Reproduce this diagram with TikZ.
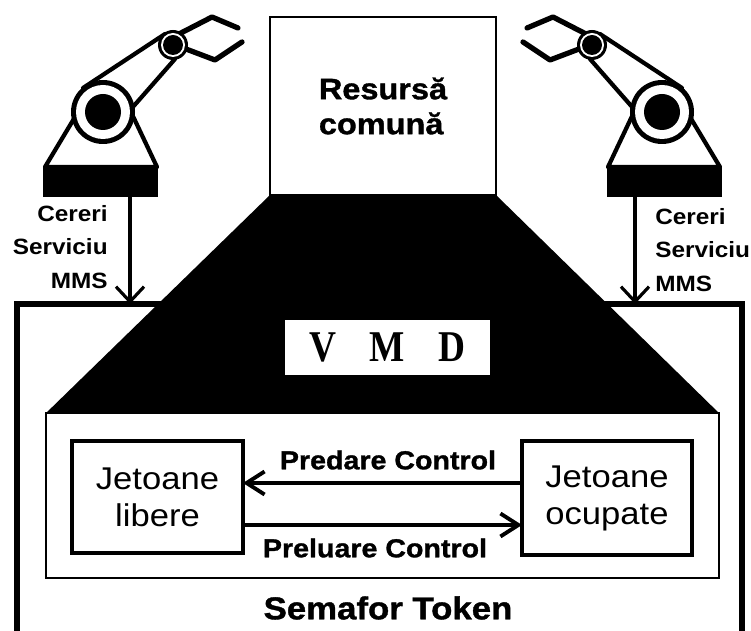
\documentclass[tikz,border=0pt]{standalone}
\usepackage{fontspec}
\setmainfont{Liberation Sans}[FakeStretch=1.1]
\newfontfamily\heavyfont{Liberation Sans}[FakeStretch=1.1, BoldFeatures={FakeBold=1.2}]
\newfontfamily\vmdfont{Liberation Serif}[FakeStretch=0.85]
\usetikzlibrary{arrows.meta, positioning}

\tikzset{
    box/.style={draw, fill=white, line width=1.5pt, inner sep=0pt, outer sep=0pt},
    token/.style={box, line width=2.2pt, align=center, font=\fontsize{17.9pt}{21pt}\selectfont},
    ctrl/.style={inner sep=0pt, font=\heavyfont\bfseries\fontsize{14.8pt}{17pt}\selectfont},
    req/.style={inner sep=0pt, font=\bfseries\fontsize{12.6pt}{19.3pt}\selectfont},
    pass/.style={line width=2.2pt, -{Straight Barb[length=0.36cm, width=0.46cm]}},
    request/.style={line width=1.8pt, -{Straight Barb[length=0.3cm, width=0.56cm]}},
    frame/.style={line width=3pt},
    robot/.pic={
        \fill (-60,55) rectangle (55,85);
        \filldraw[fill=white, line width=2.4pt, line join=round] (-58,55) -- (-25,0) -- (28,0) -- (54,55) -- cycle;
        \filldraw[fill=white, line width=2.4pt, line join=round] (0,0) -- (-20,-24) -- (62,-78) -- (70,-67) -- (72,-53) -- (29,-4) -- cycle;
        \draw[line width=3pt, line cap=round, line join=round] (76,-78) -- (109,-95) -- (135,-84);
        \draw[line width=3pt, line cap=round, line join=round] (83,-63) -- (112,-52) -- (139,-70);
        \fill (0,0) circle (32);
        \fill[white] (0,0) circle (27);
        \fill (0,0) circle (18);
        \fill (70,-67) circle (15);
        \fill[white] (70,-67) circle (12);
        \fill (70,-67) circle (10);
        \coordinate (-foot) at (27,85);
    }
}

\begin{document}
\begin{tikzpicture}[x=0.02cm, y=-0.02cm]
    \useasboundingbox (0,0) rectangle (751,631);
    \clip (0,0) rectangle (751,631);

    \coordinate (frameNW) at (17,304);
    \coordinate (frameNE) at (742,304);
    \draw[frame] ([yshift=-7cm]frameNW) -- (frameNW) -- (frameNE) -- ([yshift=-7cm]frameNE);

    \node[box, minimum width=4.52cm, minimum height=3.56cm, align=left, font=\heavyfont\bfseries\fontsize{16.8pt}{19.9pt}\selectfont] (resursa) at (383,106) {Resursă\\comună};
    \node[box, minimum width=13.46cm, minimum height=3.3cm] (semafor) at (382.5,495.5) {};
    \fill (resursa.south west) -- (resursa.south east) -- (semafor.north east) -- (semafor.north west) -- cycle;

    \node[box, draw=none, minimum width=4.1cm, minimum height=1.1cm, font=\vmdfont\bfseries\fontsize{25pt}{26pt}\selectfont] (vmd) at (387.5,347.5) {V\hspace{0.75em}M\hspace{0.75em}D\hspace{0.6em}};

    \node[token, minimum width=3.42cm, minimum height=2.24cm] (libere) at (157.5,497) {Jetoane\\libere};
    \node[token, minimum width=3.4cm, minimum height=2.28cm] (ocupate) at (607,498) {Jetoane\\ocupate};

    \draw[pass] ([yshift=0.3cm]ocupate.west) -- ([yshift=0.28cm]libere.east);
    \draw[pass] ([yshift=-0.56cm]libere.east) -- ([yshift=-0.54cm]ocupate.west);
    \node[ctrl] (predare) at (388,460) {Predare Control};
    \node[ctrl] (preluare) at (375,548) {Preluare Control};
    \node[inner sep=0pt, font=\heavyfont\bfseries\fontsize{18pt}{21pt}\selectfont] (token) at (388,608) {Semafor Token};

    \foreach \side/\sx/\cx in {L/1/103, R/-1/662} {
        \pic[xscale=\sx] (robot\side) at (\cx,112) {robot};
        \draw[request] (robot\side-foot) -- (robot\side-foot |- frameNW);
    }
    \node[req, anchor=east, align=right] (cererL) at (108,247) {Cereri\\Serviciu\\MMS};
    \node[req, anchor=west, align=left] (cererR) at (655,250) {Cereri\\Serviciu\\MMS};
\end{tikzpicture}
\end{document}
